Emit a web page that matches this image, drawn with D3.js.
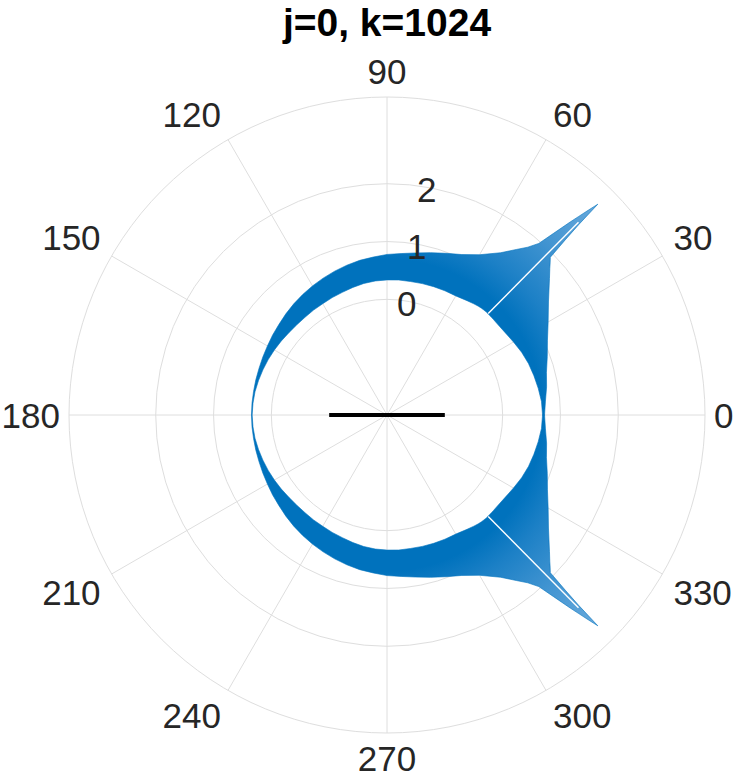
<!DOCTYPE html>
<html>
<head>
<meta charset="utf-8">
<script src="https://cdn.jsdelivr.net/npm/d3@7"></script>
<style>
  body { margin: 0; background: #fff; }
  svg text { font-family: "Liberation Sans", Arial, Helvetica, sans-serif; }
</style>
</head>
<body>
<div id="chart"></div>
<script>
var svgWidth = 735;
var svgHeight = 780;

// polar axes geometry
var cx = 387, cy = 415, outerR = 318;

var titleText = "j=0, k=1024";
var rLimits = [-2, 3.5];
var rTicks = [0, 1, 2];
var rTickAngle = 80;
var thetaTicks = [0, 30, 60, 90, 120, 150, 180, 210, 240, 270, 300, 330];

// blue band, upper half: angle (deg), inner and outer envelope of r
var thetaUp = [0, 5, 10, 15, 20, 25, 30, 35, 40,
  42, 43, 44, 44.5, 44.8, 45, 45.5, 46, 46.5, 47.5, 48.5, 50, 52, 55,
  60, 65, 70, 75, 80, 85, 90, 95, 100, 105, 110, 115, 120, 125, 130, 135, 140, 145, 150, 155, 160, 165, 170, 175, 180];
var innerUp = [0.690, 0.682, 0.656, 0.630, 0.604, 0.569, 0.526, 0.491, 0.474,
  0.474, 0.474, 0.474, 0.474, 0.474, 0.474, 0.474, 0.474, 0.472, 0.470, 0.466, 0.457, 0.440, 0.414,
  0.379, 0.370, 0.362, 0.353, 0.344, 0.344, 0.336, 0.327, 0.310, 0.284, 0.258, 0.241, 0.223, 0.215, 0.206, 0.206, 0.215, 0.232, 0.249, 0.267, 0.284, 0.301, 0.318, 0.327, 0.332];
var outerUp = [0.725, 0.751, 0.803, 0.855, 0.950, 1.062, 1.218, 1.409, 1.668,
  1.789, 1.858, 1.927, 2.325, 2.671, 3.156, 2.965, 2.775, 2.602, 2.256, 1.962, 1.789, 1.633, 1.426,
  1.201, 1.062, 0.976, 0.907, 0.846, 0.803, 0.777, 0.742, 0.716, 0.682, 0.647, 0.612, 0.578, 0.543, 0.509, 0.474, 0.439, 0.414, 0.388, 0.370, 0.356, 0.349, 0.344, 0.344, 0.344];

// lower half
var thetaLow = [185, 190, 195, 200, 205, 210, 215, 220, 225, 230, 235, 240, 245, 250, 255, 260, 265, 270, 275, 280, 285, 290, 295, 300,
  305, 308, 310, 311.5, 312.5, 313.5, 314, 314.5, 315, 315.2, 315.5, 316, 317, 318,
  320, 325, 330, 335, 340, 345, 350, 355, 360];
var innerLow = [0.327, 0.318, 0.301, 0.284, 0.267, 0.249, 0.232, 0.215, 0.206, 0.206, 0.215, 0.223, 0.241, 0.258, 0.284, 0.310, 0.327, 0.336, 0.344, 0.344, 0.353, 0.362, 0.370, 0.379,
  0.414, 0.440, 0.457, 0.466, 0.470, 0.472, 0.474, 0.474, 0.474, 0.474, 0.474, 0.474, 0.474, 0.474,
  0.474, 0.491, 0.526, 0.569, 0.604, 0.630, 0.656, 0.682, 0.690];
var outerLow = [0.344, 0.344, 0.349, 0.356, 0.370, 0.388, 0.414, 0.439, 0.474, 0.509, 0.543, 0.578, 0.612, 0.647, 0.682, 0.716, 0.742, 0.777, 0.803, 0.846, 0.907, 0.976, 1.062, 1.201,
  1.426, 1.633, 1.789, 1.962, 2.256, 2.602, 2.775, 2.965, 3.156, 2.671, 2.325, 1.927, 1.858, 1.789,
  1.668, 1.409, 1.218, 1.062, 0.950, 0.855, 0.803, 0.751, 0.725];

// white gaps inside the two spikes
var gapTheta = [[45.1, 45.2], [314.9, 314.8]];
var gapR = [0.48, 2.70];

// black segment
var segTheta = [180, 0];
var segR = [-1, -1];

var svg = d3.select("#chart")
  .append("svg")
  .attr("width", svgWidth)
  .attr("height", svgHeight);

var chartGroup = svg.append("g")
  .attr("transform", `translate(${cx}, ${cy})`);

var rScale = d3.scaleLinear().domain(rLimits).range([0, outerR]);
var ang = d => (90 - d) * Math.PI / 180;   // d3 radial angle from math angle in degrees

// gradient: dense band solid, long fan strokes lighter
var grad = svg.append("defs").append("radialGradient")
  .attr("id", "fanGrad")
  .attr("gradientUnits", "userSpaceOnUse")
  .attr("cx", 0).attr("cy", 0).attr("r", 300);
[[0, "#0072BD"], [0.52, "#0072BD"], [0.62, "#1c80c6"], [0.8, "#4596d2"], [1, "#6aaadc"]]
  .forEach(s => grad.append("stop").attr("offset", s[0]).attr("stop-color", s[1]));

// grid
var grid = chartGroup.append("g").attr("stroke", "#dedede").attr("fill", "none").attr("stroke-width", 1);
rTicks.forEach(function(t) {
  grid.append("circle").attr("r", rScale(t));
});
grid.append("circle").attr("r", outerR);
thetaTicks.forEach(function(t) {
  var a = t * Math.PI / 180;
  grid.append("line")
    .attr("x1", 0).attr("y1", 0)
    .attr("x2", outerR * Math.cos(a))
    .attr("y2", -outerR * Math.sin(a));
});

// band
var band = thetaUp.map((t, i) => ({t: t, inner: innerUp[i], outer: outerUp[i]}))
  .concat(thetaLow.map((t, i) => ({t: t, inner: innerLow[i], outer: outerLow[i]})));

var area = d3.areaRadial()
  .angle(d => ang(d.t))
  .innerRadius(d => rScale(d.inner))
  .outerRadius(d => rScale(d.outer));

chartGroup.append("path")
  .datum(band)
  .attr("d", area)
  .attr("fill", "url(#fanGrad)")
  .attr("stroke", "#0072BD")
  .attr("stroke-width", 0.6)
  .attr("stroke-linejoin", "round");

var radial = d3.lineRadial().angle(d => ang(d[0])).radius(d => rScale(d[1]));

gapTheta.forEach(function(g) {
  chartGroup.append("path")
    .attr("d", radial(g.map((t, i) => [t, gapR[i]])))
    .attr("stroke", "#fff")
    .attr("stroke-width", 1.4)
    .attr("fill", "none");
});

chartGroup.append("path")
  .attr("d", radial(segTheta.map((t, i) => [t, segR[i]])))
  .attr("stroke", "#000")
  .attr("stroke-width", 4)
  .attr("fill", "none");

// theta labels: anchored by the box corner nearest the axes
var fs = 35;
var capH = fs * 0.716;
thetaTicks.forEach(function(t) {
  var a = t * Math.PI / 180;
  var c = Math.cos(a), s = Math.sin(a);
  var rt = 327 + 4 * Math.abs(s) + 2 * Math.abs(Math.sin(2 * a));
  var anchor = c > 0.01 ? "start" : (c < -0.01 ? "end" : "middle");
  // baseline so that cap box sits above/below/centred on the anchor point
  var yOff = s > 0.01 ? 0 : (s < -0.01 ? capH : capH / 2);
  chartGroup.append("text")
    .attr("x", rt * c)
    .attr("y", -rt * s + yOff)
    .attr("font-size", fs)
    .attr("fill", "#262626")
    .attr("text-anchor", anchor)
    .text(t);
});

// r labels
rTicks.forEach(function(t) {
  var a = rTickAngle * Math.PI / 180;
  var rr = rScale(t) - 2;
  chartGroup.append("text")
    .attr("x", rr * Math.cos(a))
    .attr("y", -rr * Math.sin(a))
    .attr("dy", "0.36em")
    .attr("text-anchor", "middle")
    .attr("font-size", fs)
    .attr("fill", "#262626")
    .text(t);
});

svg.append("text")
  .attr("x", cx)
  .attr("y", 36)
  .attr("text-anchor", "middle")
  .attr("font-size", 39)
  .attr("font-weight", "bold")
  .attr("fill", "#000")
  .text(titleText);
</script>
</body>
</html>
